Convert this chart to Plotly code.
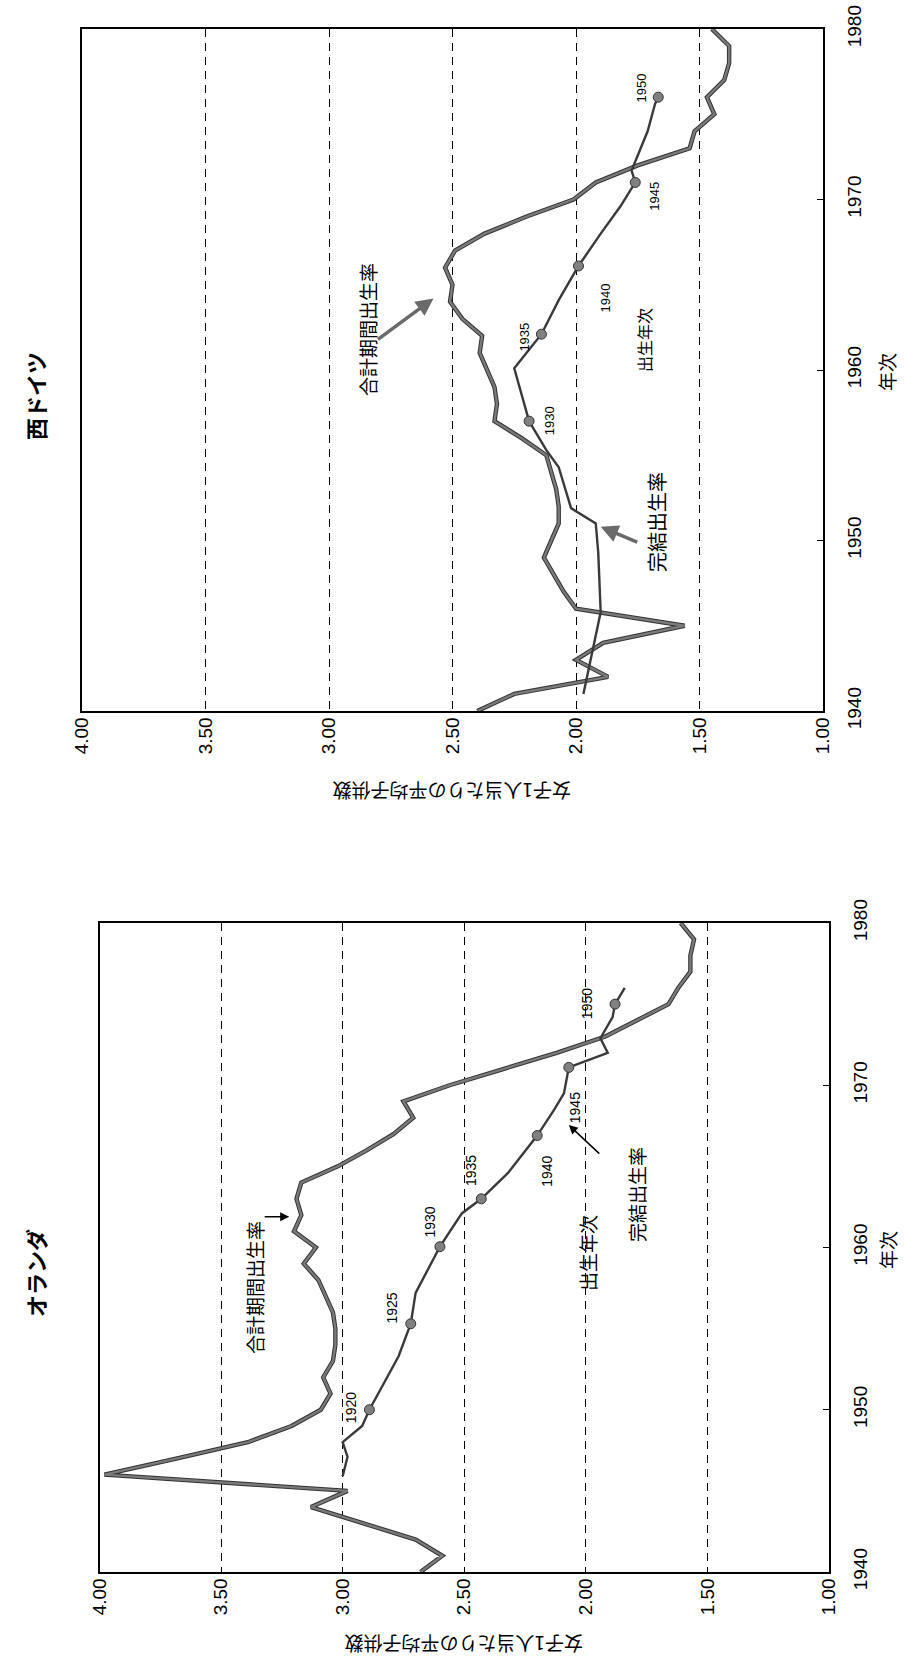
import plotly.graph_objects as go

W, H = 905, 1674

# ---------------- data ----------------
val_ticks = [4.0, 3.5, 3.0, 2.5, 2.0, 1.5, 1.0]
val_labels = ["4.00", "3.50", "3.00", "2.50", "2.00", "1.50", "1.00"]
year_ticks = [1940, 1950, 1960, 1970, 1980]
year_labels = ["1940", "1950", "1960", "1970", "1980"]

# West Germany - period TFR (合計期間出生率)
de_period_years = list(range(1940, 1981))
de_period_tfr = [2.40, 2.25, 1.87, 2.00, 1.89, 1.56, 2.00, 2.05, 2.09, 2.13,
                 2.10, 2.07, 2.07, 2.08, 2.10, 2.12, 2.22, 2.33, 2.32, 2.33,
                 2.36, 2.39, 2.38, 2.46, 2.51, 2.50, 2.53, 2.49, 2.37, 2.20,
                 2.01, 1.92, 1.75, 1.54, 1.52, 1.44, 1.47, 1.40, 1.38, 1.38,
                 1.45]
# West Germany - completed cohort fertility (完結出生率), plotted by year
de_cohort_years = [1941.0, 1945.8, 1949.3, 1951.0, 1951.9, 1954.3, 1955.3, 1957.0,
                   1960.1, 1962.1, 1964.1, 1966.1, 1968.0, 1969.6, 1971.0, 1971.7,
                   1974.0, 1975.6, 1976.0]
de_cohort_cfr = [1.97, 1.90, 1.91, 1.92, 2.02, 2.07, 2.12, 2.19,
                 2.25, 2.14, 2.07, 1.99, 1.90, 1.82, 1.76, 1.775,
                 1.71, 1.68, 1.667]
de_marker_cohorts = ["1930", "1935", "1940", "1945", "1950"]
de_marker_years = [1957.0, 1962.1, 1966.1, 1971.0, 1976.0]
de_marker_cfr = [2.19, 2.14, 1.99, 1.76, 1.667]

# Netherlands - period TFR
nl_period_years = list(range(1940, 1981))
nl_period_tfr = [2.68, 2.59, 2.70, 2.92, 3.13, 2.98, 3.98, 3.68, 3.39, 3.21,
                 3.09, 3.05, 3.08, 3.04, 3.03, 3.03, 3.04, 3.07, 3.10, 3.16,
                 3.11, 3.20, 3.17, 3.19, 3.17, 3.02, 2.90, 2.79, 2.71, 2.75,
                 2.56, 2.34, 2.12, 1.92, 1.79, 1.66, 1.62, 1.57, 1.57, 1.555,
                 1.61]
# Netherlands - completed cohort fertility
nl_cohort_years = [1945.9, 1947.1, 1948.0, 1949.0, 1950.0, 1953.3, 1955.3, 1957.2,
                   1959.2, 1960.05, 1962.1, 1963.0, 1964.6, 1966.9, 1968.5, 1969.5,
                   1971.1, 1972.0, 1972.9, 1974.2, 1975.0, 1976.0]
nl_cohort_cfr = [3.00, 2.98, 3.00, 2.92, 2.89, 2.77, 2.72, 2.70,
                 2.63, 2.60, 2.51, 2.43, 2.32, 2.20, 2.13, 2.09,
                 2.07, 1.91, 1.94, 1.89, 1.88, 1.84]
nl_marker_cohorts = ["1920", "1925", "1930", "1935", "1940", "1945", "1950"]
nl_marker_years = [1950.0, 1955.3, 1960.05, 1963.0, 1966.9, 1971.1, 1975.0]
nl_marker_cfr = [2.89, 2.72, 2.60, 2.43, 2.20, 2.07, 1.88]

# ---------------- styling ----------------
JP = "Noto Sans CJK JP"
NUM = "Liberation Sans, Arial"
OUTLINE = "#333333"
FILL = "#7a7a7a"

fig = go.Figure()


def add_panel(xa, ya, p_years, p_vals, c_years, c_vals, m_years, m_vals):
    # period TFR: thick outlined gray line
    fig.add_trace(go.Scatter(x=p_vals, y=p_years, mode="lines", xaxis=xa, yaxis=ya,
                             line=dict(color=OUTLINE, width=4.4), showlegend=False,
                             hoverinfo="skip"))
    fig.add_trace(go.Scatter(x=p_vals, y=p_years, mode="lines", xaxis=xa, yaxis=ya,
                             line=dict(color=FILL, width=2.4), showlegend=False))
    # completed fertility: thinner line
    fig.add_trace(go.Scatter(x=c_vals, y=c_years, mode="lines", xaxis=xa, yaxis=ya,
                             line=dict(color="#3a3a3a", width=2.4), showlegend=False))
    fig.add_trace(go.Scatter(x=m_vals, y=m_years, mode="markers", xaxis=xa, yaxis=ya,
                             marker=dict(size=10, color="#808080",
                                         line=dict(color="#333333", width=1)),
                             showlegend=False))


add_panel("x", "y", de_period_years, de_period_tfr, de_cohort_years, de_cohort_cfr,
          de_marker_years, de_marker_cfr)
add_panel("x2", "y2", nl_period_years, nl_period_tfr, nl_cohort_years, nl_cohort_cfr,
          nl_marker_years, nl_marker_cfr)


def val_axis(domain, anchor):
    return dict(domain=domain, anchor=anchor, range=[4, 1], tickvals=val_ticks,
                ticktext=val_labels, tickangle=-90, side="bottom", automargin=False,
                showgrid=True, gridcolor="black", gridwidth=1, griddash="8px,6px",
                showline=True, mirror=True, linecolor="black", linewidth=1.5,
                ticks="", zeroline=False, ticklabelstandoff=-3,
                tickfont=dict(family=NUM, size=19, color="black"))


def year_axis(domain, anchor):
    return dict(domain=domain, anchor=anchor, range=[1940, 1980], tickvals=year_ticks,
                ticktext=year_labels, tickangle=-90, side="right", automargin=False,
                showgrid=False, showline=True, mirror=True, linecolor="black",
                linewidth=1.5, ticks="inside", ticklen=6, tickcolor="black",
                zeroline=False, ticklabelstandoff=13,
                tickfont=dict(family=NUM, size=19, color="black"))


fig.update_layout(
    width=W, height=H, margin=dict(l=0, r=0, t=0, b=0, autoexpand=False),
    paper_bgcolor="white", plot_bgcolor="white",
    xaxis=val_axis([82 / W, 823 / W], "y"),
    yaxis=year_axis([1 - 711 / H, 1 - 29 / H], "x"),
    xaxis2=val_axis([99.5 / W, 829 / W], "y2"),
    yaxis2=year_axis([1 - 1572 / H, 1 - 923 / H], "x2"),
)


def px(xp, yp):
    return xp / W, 1 - yp / H


def text_ann(txt, xp, yp, size, angle=-90, bold=False, family=JP):
    x, y = px(xp, yp)
    t = f"<b>{txt}</b>" if bold else txt
    fig.add_annotation(x=x, y=y, xref="paper", yref="paper", text=t, showarrow=False,
                       textangle=angle, xanchor="center", yanchor="middle",
                       font=dict(family=family, size=size, color="black"))


# --- West Germany texts ---
text_ann("西ドイツ", 35, 396, 22, bold=True)
text_ann("女子1人当たりの平均子供数", 452, 792, 19, angle=180)
text_ann("年次", 886, 372, 19)
text_ann("合計期間出生率", 368, 330, 19)
text_ann("出生年次", 644, 340, 16)
text_ann("完結出生率", 657, 522, 20)

# --- Netherlands texts ---
text_ann("オランダ", 35, 1273, 22, bold=True)
text_ann("女子1人当たりの平均子供数", 464, 1645, 19, angle=180)
text_ann("年次", 887, 1250, 19)
text_ann("合計期間出生率", 254, 1287, 19)
text_ann("出生年次", 587, 1253, 19)
text_ann("完結出生率", 636, 1195, 19)

# cohort labels next to markers (pixel shifts)
de_shift = [(20, 0), (-17, -3), (27, -32), (19, -14), (-17, 9)]
for lab, yr, v, (dx, dy) in zip(de_marker_cohorts, de_marker_years, de_marker_cfr, de_shift):
    fig.add_annotation(x=v, y=yr, xref="x", yref="y", text=lab, showarrow=False,
                       textangle=-90, xshift=dx, yshift=dy,
                       font=dict(family=NUM, size=13, color="black"))
nl_shift = [(-19, 2), (-19, 16), (-10, 25), (-10, 28), (9, -36), (7, -40), (-28, 0)]
for lab, yr, v, (dx, dy) in zip(nl_marker_cohorts, nl_marker_years, nl_marker_cfr, nl_shift):
    fig.add_annotation(x=v, y=yr, xref="x2", yref="y2", text=lab, showarrow=False,
                       textangle=-90, xshift=dx, yshift=dy,
                       font=dict(family=NUM, size=14, color="black"))

# arrows
fig.add_annotation(x=2.577, y=1964.2, xref="x", yref="y", ax=-57, ay=42, text="",
                   showarrow=True, arrowhead=2, arrowsize=1, arrowwidth=3.5,
                   arrowcolor="#6a6a6a")
fig.add_annotation(x=1.90, y=1950.8, xref="x", yref="y", ax=38, ay=16, text="",
                   showarrow=True, arrowhead=2, arrowsize=1, arrowwidth=3.5,
                   arrowcolor="#6a6a6a")
fig.add_annotation(x=3.22, y=1961.9, xref="x2", yref="y2", ax=-26, ay=0, text="",
                   showarrow=True, arrowhead=2, arrowsize=1.2, arrowwidth=1.5,
                   arrowcolor="black")
fig.add_annotation(x=2.07, y=1967.55, xref="x2", yref="y2", ax=32, ay=30, text="",
                   showarrow=True, arrowhead=2, arrowsize=1.2, arrowwidth=1.5,
                   arrowcolor="black")

fig.write_html(
    "out.html",
    config={"displayModeBar": False},
    post_script="document.body.style.margin='0';document.body.style.overflow='hidden';",
)
